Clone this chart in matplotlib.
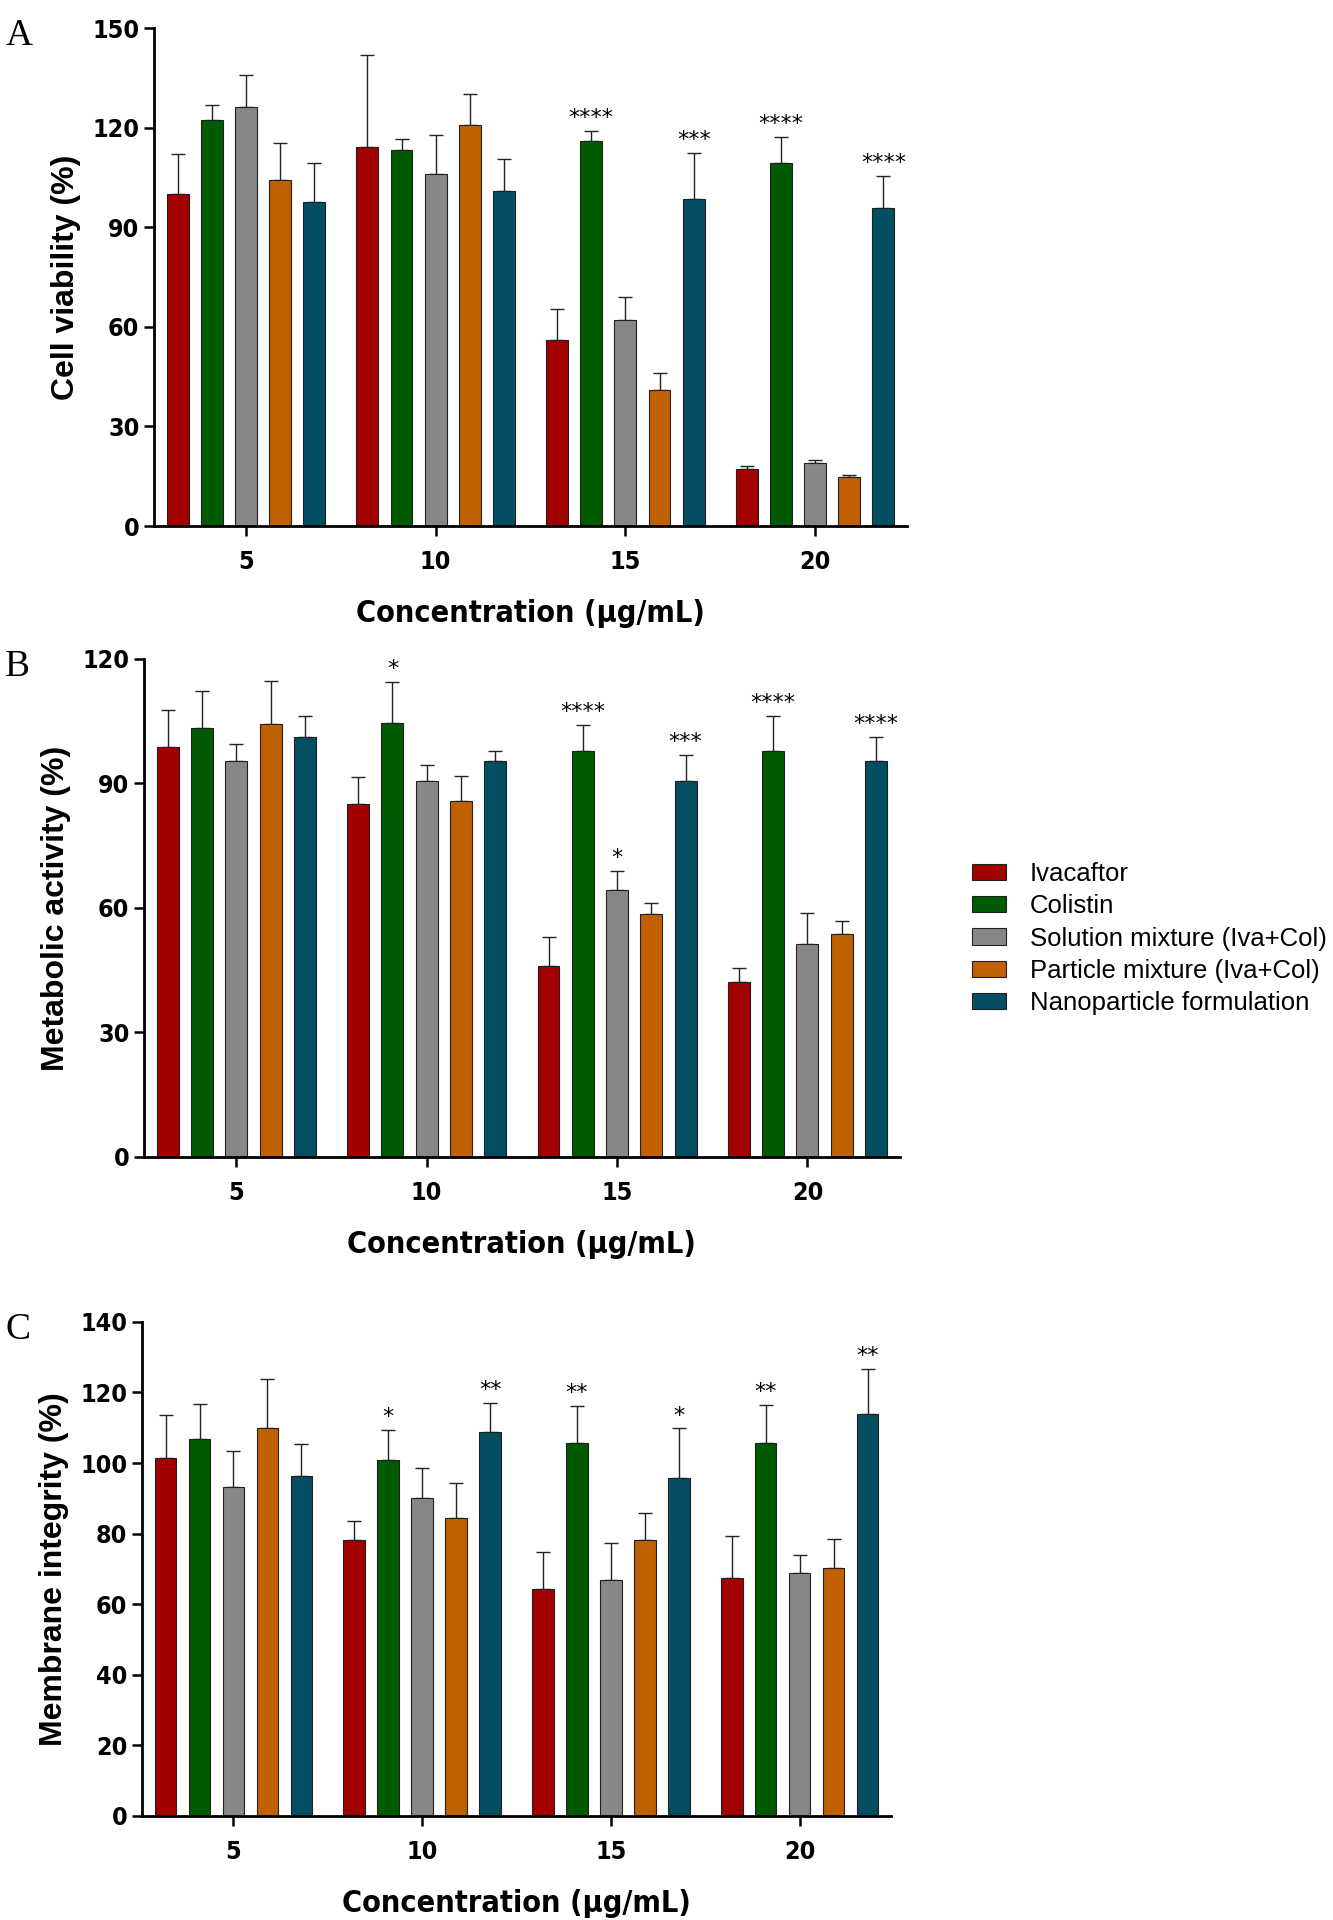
import matplotlib
matplotlib.use("Agg")
import matplotlib.pyplot as plt
from matplotlib import font_manager
import numpy as np

# data (mean, upper SD)
concentrations = ["5", "10", "15", "20"]
groups = ["Ivacaftor", "Colistin", "Solution mixture (Iva+Col)",
          "Particle mixture (Iva+Col)", "Nanoparticle formulation"]
colors = ["#a30000", "#005a00", "#878787", "#c06000", "#034e63"]

# panel A: cell viability
via_ivacaftor = [100.0, 114.3, 56.1, 17.3]
via_colistin = [122.2, 113.2, 115.9, 109.4]
via_solution = [126.3, 106.0, 62.1, 19.0]
via_particle = [104.1, 120.8, 41.1, 14.9]
via_nano = [97.6, 101.0, 98.6, 95.9]
via_err_ivacaftor = [12.1, 27.6, 9.2, 0.8]
via_err_colistin = [4.6, 3.5, 3.1, 7.7]
via_err_solution = [9.7, 11.7, 6.8, 0.8]
via_err_particle = [11.4, 9.2, 4.9, 0.6]
via_err_nano = [11.9, 9.6, 13.7, 9.5]
via_stars = [["", "", "", "", ""], ["", "", "", "", ""],
             ["", "****", "", "", "***"], ["", "****", "", "", "****"]]

# panel B: metabolic activity
met_ivacaftor = [98.7, 85.0, 46.0, 42.2]
met_colistin = [103.4, 104.5, 97.7, 97.9]
met_solution = [95.3, 90.7, 64.3, 51.2]
met_particle = [104.3, 85.8, 58.5, 53.8]
met_nano = [101.3, 95.5, 90.7, 95.3]
met_err_ivacaftor = [8.9, 6.6, 7.1, 3.3]
met_err_colistin = [8.8, 10.0, 6.4, 8.3]
met_err_solution = [4.1, 3.7, 4.6, 7.5]
met_err_particle = [10.5, 6.0, 2.7, 3.1]
met_err_nano = [5.0, 2.3, 6.1, 6.0]
met_stars = [["", "", "", "", ""], ["", "*", "", "", ""],
             ["", "****", "*", "", "***"], ["", "****", "", "", "****"]]

# panel C: membrane integrity
mem_ivacaftor = [101.4, 78.1, 64.3, 67.4]
mem_colistin = [106.9, 101.0, 105.6, 105.6]
mem_solution = [93.3, 90.0, 66.8, 68.9]
mem_particle = [109.9, 84.4, 78.2, 70.2]
mem_nano = [96.2, 108.7, 95.9, 114.0]
mem_err_ivacaftor = [12.3, 5.5, 10.6, 11.9]
mem_err_colistin = [9.8, 8.4, 10.5, 10.8]
mem_err_solution = [10.0, 8.6, 10.6, 5.0]
mem_err_particle = [14.0, 10.0, 7.7, 8.2]
mem_err_nano = [9.3, 8.3, 13.9, 12.7]
mem_stars = [["", "", "", "", ""], ["", "*", "", "", "**"],
             ["", "**", "", "", "*"], ["", "**", "", "", "**"]]

names = [f.name for f in font_manager.fontManager.ttflist]
if "Liberation Sans Narrow" in names:
    NARROW = dict(family="Liberation Sans Narrow", weight="bold")
else:
    NARROW = dict(family="DejaVu Sans", stretch="condensed", weight="bold")
SERIF = "Liberation Serif"

fig = plt.figure(figsize=(13.33, 19.2), dpi=100)

panels = [
    ("A", [0.1155, 0.726, 0.565, 0.2594], 150, 30, "Cell viability (%)",
     [via_ivacaftor, via_colistin, via_solution, via_particle, via_nano],
     [via_err_ivacaftor, via_err_colistin, via_err_solution, via_err_particle, via_err_nano],
     via_stars),
    ("B", [0.108, 0.3974, 0.567, 0.2594], 120, 30, "Metabolic activity (%)",
     [met_ivacaftor, met_colistin, met_solution, met_particle, met_nano],
     [met_err_ivacaftor, met_err_colistin, met_err_solution, met_err_particle, met_err_nano],
     met_stars),
    ("C", [0.1065, 0.0542, 0.562, 0.2573], 140, 20, "Membrane integrity (%)",
     [mem_ivacaftor, mem_colistin, mem_solution, mem_particle, mem_nano],
     [mem_err_ivacaftor, mem_err_colistin, mem_err_solution, mem_err_particle, mem_err_nano],
     mem_stars),
]

pitch = 0.18
width = 0.115
x = np.arange(len(concentrations))

for letter, rect, ymax, ystep, ylabel, means, errs, stars in panels:
    ax = fig.add_axes(rect)
    for i, (m, e) in enumerate(zip(means, errs)):
        pos = x + (i - 2) * pitch
        ax.bar(pos, m, width, color=colors[i], edgecolor="#202020", linewidth=0.8,
               label=groups[i], zorder=2)
        ax.errorbar(pos, m, yerr=[np.zeros(len(e)), e], fmt="none", ecolor="#222222",
                    elinewidth=1.0, capsize=5, capthick=1.0, zorder=1)
        for j in range(len(concentrations)):
            s = stars[j][i]
            if s:
                ax.text(pos[j], m[j] + e[j] + ymax * 0.006, s, ha="center", va="bottom",
                        fontsize=16, family="DejaVu Sans")
    ax.set_xlim(-0.485, 3.485)
    ax.set_ylim(0, ymax)
    ax.set_yticks(np.arange(0, ymax + 1, ystep))
    ax.set_xticks(x)
    ax.set_xticklabels(concentrations)
    for side in ["top", "right"]:
        ax.spines[side].set_visible(False)
    for side in ["left", "bottom"]:
        ax.spines[side].set_linewidth(2.0)
    ax.tick_params(axis="both", width=1.8, length=7, direction="out")
    ax.tick_params(axis="x", pad=10)
    for lab in ax.get_xticklabels() + ax.get_yticklabels():
        lab.set_fontproperties(font_manager.FontProperties(size=18, **NARROW))
    ax.set_ylabel(ylabel, fontproperties=font_manager.FontProperties(
        family="Liberation Sans", weight="bold", size=23), labelpad=8)
    ax.set_xlabel("Concentration (µg/mL)", fontproperties=font_manager.FontProperties(size=22, **NARROW),
                  labelpad=18)
    fig.text(0.004, rect[1] + rect[3] - 0.004, letter, family=SERIF, fontsize=27,
             ha="left", va="center")
    if letter == "B":
        handles, labels = ax.get_legend_handles_labels()

fig.legend(handles, labels, loc="upper left", bbox_to_anchor=(0.729, 0.551),
           frameon=False, prop=dict(family="Liberation Sans", size=18.5),
           handlelength=1.35, handleheight=0.6, handletextpad=0.9, labelspacing=0.32,
           borderpad=0, borderaxespad=0)

fig.savefig("out.png", dpi=100)
